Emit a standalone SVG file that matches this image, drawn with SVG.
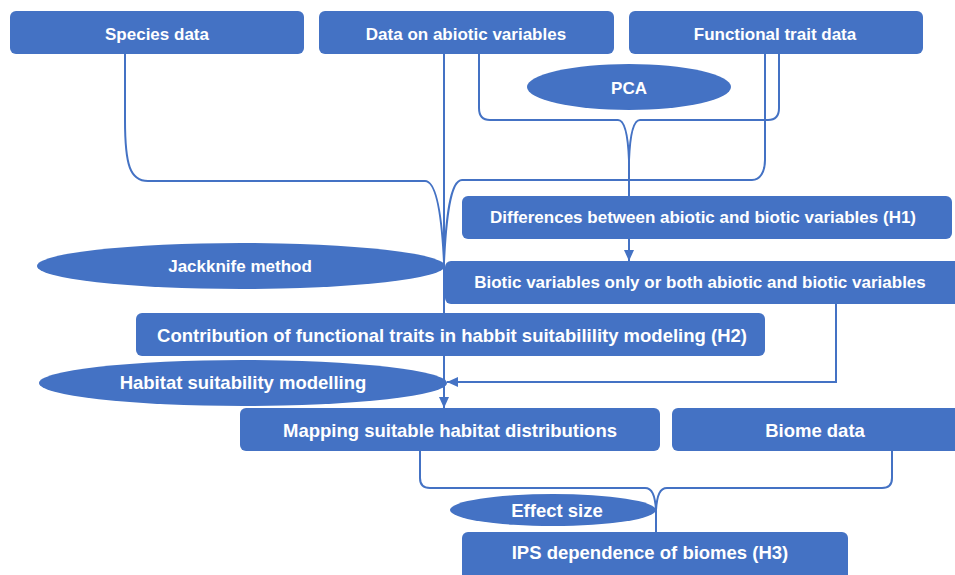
<svg xmlns="http://www.w3.org/2000/svg" width="955" height="575" viewBox="0 0 955 575">
<defs>
<marker id="arr" markerUnits="userSpaceOnUse" markerWidth="12" markerHeight="12" viewBox="0 0 12 12" refX="11" refY="6" orient="auto">
<path d="M0,1 L11,6 L0,11 Z" fill="#4472C4"/>
</marker>
</defs>
<style>
.box{fill:#4472C4;}
.t{fill:#ffffff;font-family:"Liberation Sans",Arial,sans-serif;font-weight:bold;font-size:17px;text-anchor:middle;}
.l{font-size:18.5px;}
.c{fill:none;stroke:#4472C4;stroke-width:2;}
</style>
<rect width="955" height="575" fill="#ffffff"/>
<g id="connectors">
<path class="c" d="M125,54 V120 C125,165 130,181 148,181 H425 C437,181 442,220 444,262"/>
<path class="c" d="M765,54 V160 C765,172 760,180 752,180 H462 C450,180 446,220 444,262"/>
<path class="c" d="M479,54 V108 C479,116 482,120 490,120 H618 C625,120 628,135 629,160"/>
<path class="c" d="M779,54 V108 C779,116 776,120 768,120 H640 C633,120 630,135 629,160"/>
<path class="c" d="M629,160 V196"/>
<path class="c" d="M629,239 V261" marker-end="url(#arr)"/>
<path class="c" d="M444,54 V408" marker-end="url(#arr)"/>
<path class="c" d="M836,304 V382 H447" marker-end="url(#arr)"/>
<path class="c" d="M420,451 V478 C420,485 423,488 430,488 H645 C652,488 655,495 656,510 V532"/>
<path class="c" d="M892,451 V478 C892,485 889,488 882,488 H667 C660,488 657,495 656,510"/>
</g>
<g id="species"><rect class="box" x="10" y="11" width="294" height="43" rx="6"/><text class="t" x="157" y="40">Species data</text></g>
<g id="abiotic"><rect class="box" x="319" y="11" width="295" height="43" rx="6"/><text class="t" x="466" y="40">Data on abiotic variables</text></g>
<g id="traits"><rect class="box" x="629" y="11" width="294" height="43" rx="6"/><text class="t" x="775" y="40">Functional trait data</text></g>
<g id="pca"><ellipse class="box" cx="629" cy="87" rx="102" ry="23"/><text class="t" x="629" y="94">PCA</text></g>
<g id="h1"><rect class="box" x="462" y="196" width="490" height="43" rx="6"/><text class="t" x="703" y="223">Differences between abiotic and biotic variables (H1)</text></g>
<g id="jackknife"><ellipse class="box" cx="241" cy="266" rx="204" ry="23"/><text class="t" x="240" y="272">Jackknife method</text></g>
<g id="biotic"><rect class="box" x="445" y="261" width="516" height="43" rx="6"/><text class="t" x="700" y="288">Biotic variables only or both abiotic and biotic variables</text></g>
<g id="h2"><rect class="box" x="136" y="313" width="629" height="43" rx="6"/><text class="t l" x="452" y="342">Contribution of functional traits in habbit suitabilility modeling (H2)</text></g>
<g id="habitat"><ellipse class="box" cx="243" cy="383" rx="204" ry="23"/><text class="t l" x="243" y="389">Habitat suitability modelling</text></g>
<g id="mapping"><rect class="box" x="240" y="408" width="420" height="43" rx="6"/><text class="t l" x="450" y="437">Mapping suitable habitat distributions</text></g>
<g id="biome"><rect class="box" x="672" y="408" width="290" height="43" rx="6"/><text class="t l" x="815" y="437">Biome data</text></g>
<g id="effect"><ellipse class="box" cx="553" cy="510" rx="103" ry="16"/><text class="t l" x="557" y="517">Effect size</text></g>
<g id="h3"><rect class="box" x="462" y="532" width="386" height="48" rx="6"/><text class="t l" x="650" y="559">IPS dependence of biomes (H3)</text></g>
</svg>
